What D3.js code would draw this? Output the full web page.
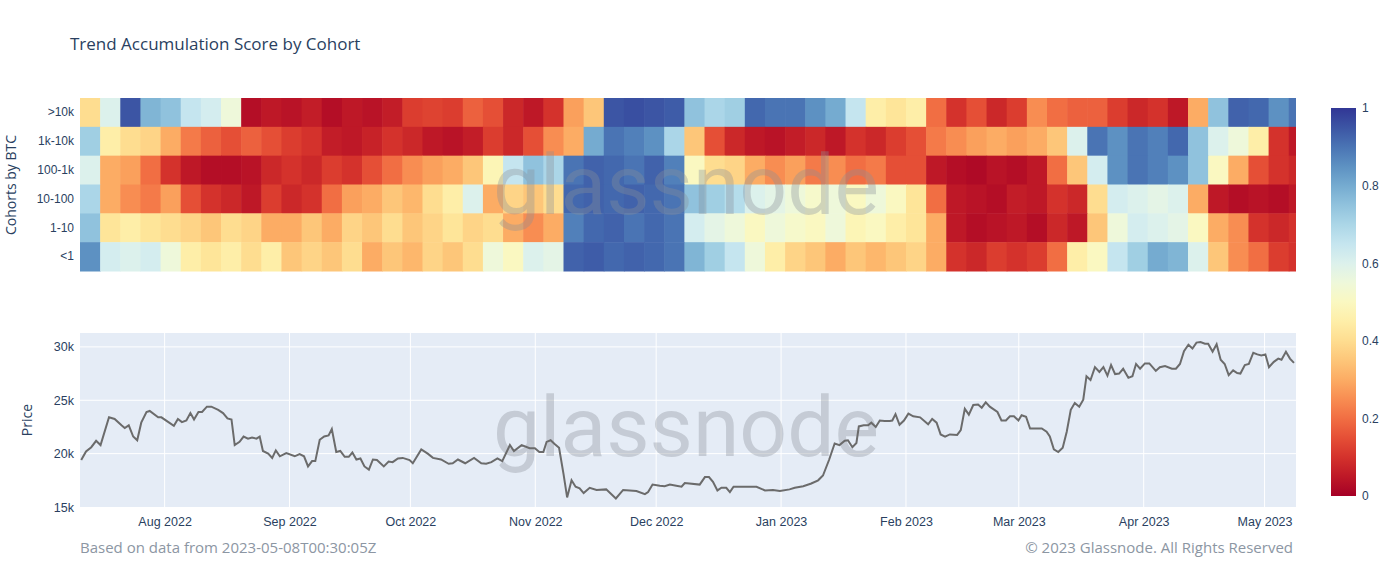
<!DOCTYPE html>
<html><head><meta charset="utf-8">
<script src="https://cdn.jsdelivr.net/npm/d3@7"></script>
<style>body{margin:0;background:#fff}svg{font-family:"Open Sans",sans-serif}</style>
</head><body><svg id="c" width="1400" height="586"></svg>
<script>
const cohorts = [">10k","1k-10k","100-1k","10-100","1-10","<1"];
const startDate = "2022-07-11";
const cellDays = 5;
const scores = [
[0.4,0.6,0.95,0.78,0.75,0.65,0.62,0.55,0.03,0.05,0.04,0.06,0.03,0.05,0.04,0.06,0.12,0.13,0.12,0.18,0.15,0.08,0.05,0.1,0.28,0.35,0.95,0.96,0.95,0.94,0.75,0.7,0.72,0.92,0.9,0.9,0.85,0.8,0.65,0.45,0.42,0.45,0.2,0.1,0.15,0.08,0.12,0.25,0.2,0.18,0.18,0.12,0.08,0.1,0.05,0.3,0.75,0.93,0.92,0.85,0.9],
[0.72,0.45,0.4,0.38,0.3,0.22,0.18,0.15,0.18,0.15,0.12,0.1,0.06,0.05,0.07,0.1,0.08,0.05,0.04,0.06,0.12,0.08,0.15,0.25,0.3,0.8,0.9,0.88,0.85,0.7,0.35,0.15,0.08,0.05,0.04,0.06,0.08,0.05,0.1,0.08,0.12,0.15,0.22,0.25,0.28,0.3,0.28,0.3,0.35,0.6,0.9,0.85,0.9,0.88,0.92,0.75,0.6,0.55,0.45,0.1,0.05],
[0.6,0.3,0.28,0.2,0.1,0.05,0.03,0.03,0.04,0.08,0.1,0.08,0.12,0.1,0.15,0.2,0.25,0.28,0.3,0.35,0.48,0.65,0.75,0.7,0.9,0.93,0.92,0.9,0.93,0.88,0.5,0.4,0.38,0.3,0.25,0.28,0.22,0.25,0.2,0.22,0.15,0.15,0.05,0.03,0.02,0.04,0.03,0.05,0.2,0.35,0.62,0.85,0.9,0.88,0.85,0.75,0.5,0.3,0.15,0.1,0.08],
[0.7,0.3,0.25,0.22,0.28,0.15,0.1,0.08,0.05,0.12,0.08,0.1,0.2,0.28,0.3,0.35,0.32,0.4,0.45,0.6,0.3,0.38,0.35,0.4,0.92,0.93,0.92,0.93,0.92,0.9,0.75,0.72,0.68,0.6,0.58,0.55,0.52,0.55,0.5,0.55,0.5,0.42,0.2,0.05,0.04,0.03,0.06,0.05,0.1,0.08,0.4,0.62,0.6,0.58,0.6,0.3,0.05,0.03,0.04,0.03,0.05],
[0.75,0.42,0.45,0.42,0.4,0.38,0.35,0.4,0.38,0.3,0.3,0.35,0.3,0.38,0.35,0.4,0.35,0.38,0.42,0.38,0.4,0.3,0.25,0.3,0.88,0.92,0.93,0.9,0.92,0.9,0.62,0.58,0.55,0.5,0.55,0.52,0.5,0.55,0.48,0.5,0.45,0.42,0.3,0.05,0.03,0.04,0.05,0.03,0.08,0.05,0.35,0.55,0.62,0.6,0.58,0.5,0.3,0.25,0.1,0.08,0.1],
[0.85,0.62,0.6,0.62,0.55,0.45,0.42,0.45,0.4,0.45,0.35,0.38,0.35,0.4,0.3,0.35,0.32,0.38,0.35,0.4,0.55,0.5,0.6,0.58,0.93,0.94,0.92,0.93,0.92,0.9,0.78,0.72,0.65,0.55,0.45,0.38,0.35,0.3,0.35,0.32,0.35,0.38,0.3,0.1,0.08,0.12,0.1,0.12,0.2,0.45,0.5,0.65,0.72,0.8,0.78,0.6,0.35,0.25,0.2,0.12,0.1]
];
const priceDay = [0.3,1.5,2.8,4,5.1,7.2,8.6,10.3,11.1,12.1,13.2,14.2,15.2,16.5,17.3,19.4,20.2,23.3,24.3,25.3,26.4,27.4,28.3,29.4,30.3,31.5,32.6,34.3,35.5,36.6,37.6,38.4,39.6,40.6,41.7,42.7,43.8,44.6,45.4,46.7,47.7,48.6,49.6,51.2,53.3,54.5,55.6,56.6,57.6,58.4,59.5,60.6,61.7,62.5,63.6,64.6,65.7,66.7,67.6,68.6,69.6,70.6,71.7,72.7,73.7,75.4,76.6,77.6,78.9,80.1,81.8,82.6,84.7,86.3,87.6,89.6,91.5,92.5,93.8,95.6,97.8,99.6,100.8,102.1,103.6,104.8,106.7,107.7,109.6,111.6,112.9,114,115,115.8,116.8,117.8,118.9,120,120.9,122,123,124,125,126.5,128.2,130.6,133,134.8,138.1,140.2,141,142.1,143.9,145.1,146.4,148,149.3,150.1,153.8,155.1,156.1,157.1,158.2,159.2,160.4,161.3,162.2,167.9,170,172,173.7,176.1,177.4,179.5,181.5,183.2,184.4,185.9,187.3,188.5,189.8,190.6,191.7,192.7,193.3,194.5,195.6,196.4,197.5,198.5,199.7,201,201.6,202.4,203.4,204.5,205.6,206.8,208.5,210.5,211.5,212.6,213.6,214.7,215.9,217.7,218.6,219.6,220.6,221.7,222.9,223.8,224.8,225.8,227.7,228.7,229.8,230.8,231.8,232.9,233.7,234.8,235.8,238.7,239.9,240.7,241.7,242.8,243.9,244.9,245.9,246.9,248,249,249.8,250.8,251.9,253,254,255,255.9,256.9,257.9,258.9,260.2,261.2,262.1,263.1,264.3,265.4,267,268,269.3,271,272,273,274,275.1,276.1,277.1,278.1,279.2,280,281.1,282.1,283.1,284.1,285.1,286.2,287.2,288,289.1,290.1,291.2,292.2,293.2,294.2,295.1,296.3,297.4,298.2,299.3,300.3,301.3];
const priceVal = [19.4,20.2,20.6,21.2,20.8,23.4,23.25,22.65,22.4,22.65,21.6,21.25,22.9,23.9,24.0,23.4,23.4,22.6,23.25,22.95,23.1,23.8,23.2,23.9,23.9,24.4,24.4,24.1,23.8,23.3,23.2,20.8,21.1,21.6,21.4,21.5,21.4,21.6,20.25,20.0,19.6,20.3,19.75,20.05,19.75,19.95,19.75,18.8,19.3,19.3,21.3,21.6,21.7,22.3,20.15,20.25,19.7,19.7,20.1,19.45,19.55,18.8,18.5,19.45,19.4,18.8,19.25,19.2,19.55,19.6,19.4,19.1,20.4,20.0,19.6,19.45,19.05,19.1,19.45,19.1,19.6,19.1,19.05,19.2,19.55,19.3,20.8,20.25,20.8,20.5,20.5,20.15,20.15,21.1,21.25,20.9,20.55,18.1,15.9,17.5,16.9,16.75,16.3,16.8,16.6,16.65,15.8,16.6,16.5,16.2,16.4,17.1,17.0,16.95,17.1,17.0,16.9,17.25,17.1,17.8,17.8,17.35,16.55,16.8,16.8,16.4,16.9,16.9,16.55,16.6,16.5,16.65,16.8,16.95,17.2,17.5,17.95,19.4,20.95,20.8,21.2,21.25,20.6,21.0,22.55,22.65,22.65,22.9,22.5,23.1,23.05,23.05,23.1,23.7,22.7,23.1,23.75,23.5,23.4,22.75,23.25,22.9,21.8,21.6,21.8,21.75,22.2,24.2,23.65,24.55,24.6,24.3,24.8,24.4,23.9,23.1,23.1,23.5,23.5,23.1,23.6,23.45,22.35,22.35,22.05,21.6,20.4,20.15,20.55,22.05,24.1,24.75,24.4,25.05,27.25,26.9,28.1,27.65,28.1,27.3,28.3,27.45,27.5,27.95,27.1,27.25,28.4,27.95,28.45,28.45,27.75,28.1,28.2,27.95,27.95,28.4,29.6,30.2,29.85,30.4,30.45,30.3,30.3,29.55,30.25,28.8,28.4,27.35,27.8,27.55,27.5,28.3,28.4,29.45,29.3,29.2,29.3,28.1,28.6,28.9,28.8,29.55,28.9,28.5];
const priceTicks = [15000,20000,25000,30000];
const colorTicks = [0,0.2,0.4,0.6,0.8,1];

const svg = d3.select("#c");
const L=80,R=1296;
const t0 = d3.isoParse(startDate+"T00:00:00Z");
const dayAt = d => new Date(t0.getTime()+d*864e5);
const x = d3.scaleUtc().domain([t0, dayAt(301.8)]).range([L,R]);
const col = d3.interpolateRdYlBu;

const hTop=98,hBot=271;
const y = d3.scaleBand().domain(cohorts).range([hTop,hBot]);
const g = svg.append("g");
scores.forEach((row,ri)=>{
  row.forEach((v,i)=>{
    const a=x(dayAt(i*cellDays)), b=Math.min(R,x(dayAt((i+1)*cellDays)));
    g.append("rect").attr("x",a).attr("y",y(cohorts[ri])).attr("width",Math.min(b-a+0.6,R-a))
     .attr("height",y.bandwidth()+0.5).attr("fill",col(v));
  });
});
svg.append("g").attr("transform",`translate(${L},0)`)
 .call(d3.axisLeft(y).tickSize(0).tickPadding(6))
 .call(s=>{s.select(".domain").remove();s.selectAll("text").attr("font-size",12).attr("fill","#2a3f5f");});

const pTop=333,pBot=507;
const yp = d3.scaleLinear().domain([15000,31300]).range([pBot,pTop]);
svg.append("rect").attr("x",L).attr("y",pTop).attr("width",R-L).attr("height",pBot-pTop).attr("fill","#e5ecf6");
const months = d3.utcMonth.range(d3.utcMonth.ceil(t0), dayAt(301.8));
svg.append("g").selectAll("line").data(months).join("line")
 .attr("x1",d=>x(d)).attr("x2",d=>x(d)).attr("y1",pTop).attr("y2",pBot).attr("stroke","#fff").attr("stroke-width",1);
svg.append("g").selectAll("line").data(priceTicks.slice(1)).join("line")
 .attr("x1",L).attr("x2",R).attr("y1",d=>yp(d)).attr("y2",d=>yp(d)).attr("stroke","#fff").attr("stroke-width",1);
svg.append("g").attr("transform",`translate(0,${pBot})`)
 .call(d3.axisBottom(x).tickValues(months).tickFormat(d3.utcFormat("%b %Y")).tickSize(0).tickPadding(10))
 .call(s=>{s.select(".domain").remove();s.selectAll("text").attr("font-size",12.5).attr("fill","#2a3f5f");});
svg.append("g").attr("transform",`translate(${L},0)`)
 .call(d3.axisLeft(yp).tickValues(priceTicks).tickFormat(d=>d/1000+"k").tickSize(0).tickPadding(6))
 .call(s=>{s.select(".domain").remove();s.selectAll("text").attr("font-size",12.5).attr("fill","#2a3f5f");});

[184,426].forEach(yy=>svg.append("text").attr("x",686).attr("y",yy+30).attr("text-anchor","middle")
  .attr("font-size",84).attr("font-family","Roboto,sans-serif").attr("fill","#8a9099").attr("opacity",0.35).text("glassnode"));

const line = d3.line().x((d,i)=>x(dayAt(priceDay[i]))).y(d=>yp(d*1000));
svg.append("path").datum(priceVal).attr("d",line).attr("fill","none").attr("stroke","#6b6b6b").attr("stroke-width",2);

const cbT=108,cbB=496,cbX=1331,cbW=25;
const defs=svg.append("defs");
const gr=defs.append("linearGradient").attr("id","cb").attr("x1",0).attr("y1",1).attr("x2",0).attr("y2",0);
d3.range(0,1.001,0.05).forEach(t=>gr.append("stop").attr("offset",t).attr("stop-color",col(t)));
svg.append("rect").attr("x",cbX).attr("y",cbT).attr("width",cbW).attr("height",cbB-cbT).attr("fill","url(#cb)");
const yc=d3.scaleLinear().domain([0,1]).range([cbB,cbT]);
svg.append("g").attr("transform",`translate(${cbX+cbW},0)`)
 .call(d3.axisRight(yc).tickValues(colorTicks).tickFormat(d3.format("~g")).tickSize(0).tickPadding(6))
 .call(s=>{s.select(".domain").remove();s.selectAll("text").attr("font-size",12).attr("fill","#2a3f5f");});

svg.append("text").attr("x",70).attr("y",50).attr("font-size",17).attr("fill","#2a3f5f").text("Trend Accumulation Score by Cohort");
svg.append("text").attr("transform","translate(16,185) rotate(-90)").attr("text-anchor","middle").attr("font-size",14).attr("fill","#2a3f5f").text("Cohorts by BTC");
svg.append("text").attr("transform","translate(32,420) rotate(-90)").attr("text-anchor","middle").attr("font-size",14).attr("fill","#2a3f5f").text("Price");
svg.append("text").attr("x",80).attr("y",553).attr("font-size",15).attr("fill","#8c96a3").text("Based on data from 2023-05-08T00:30:05Z");
svg.append("text").attr("x",1293).attr("y",553).attr("text-anchor","end").attr("font-size",15).attr("fill","#8c96a3").text("© 2023 Glassnode. All Rights Reserved");
</script></body></html>
